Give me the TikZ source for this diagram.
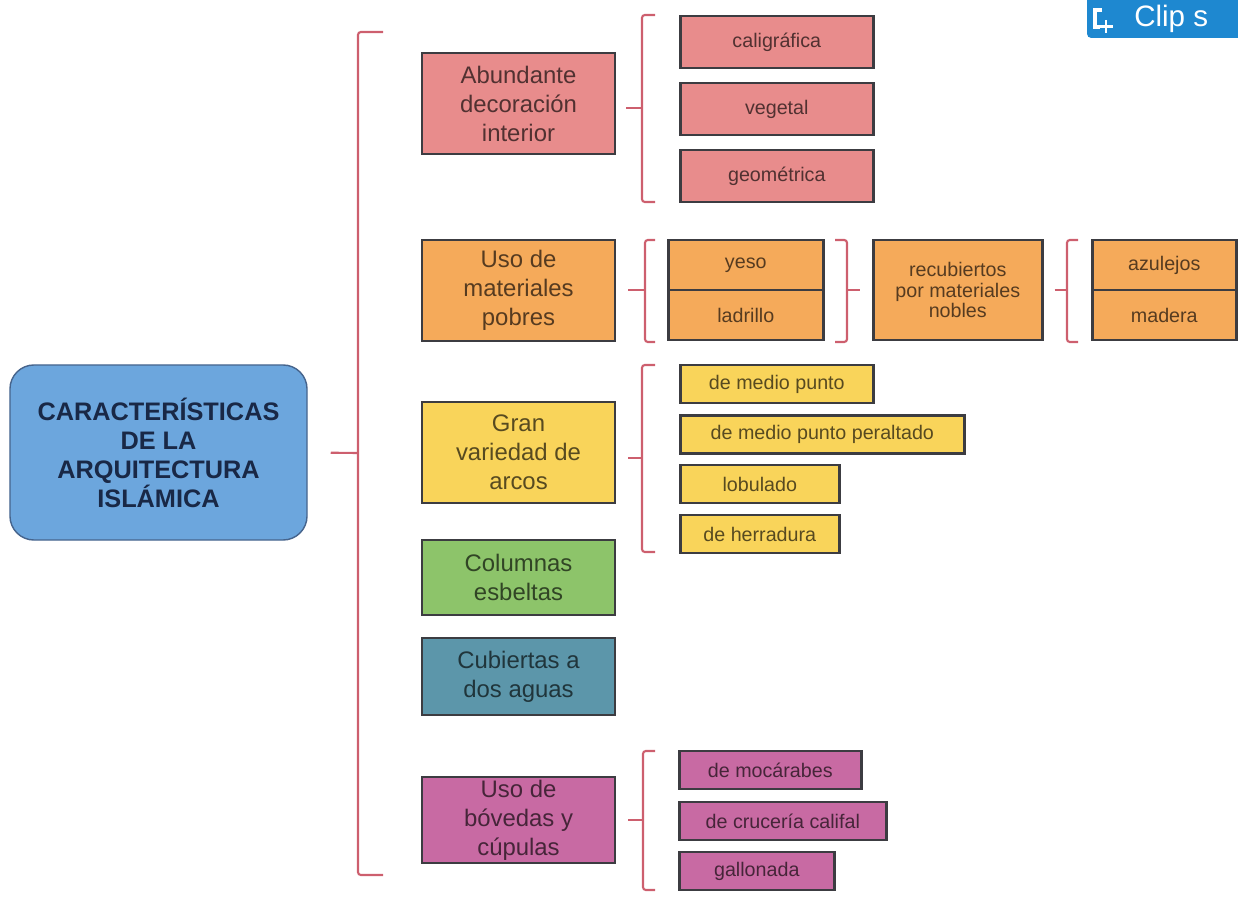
\documentclass[tikz,border=0pt]{standalone}
\usepackage{fontspec}
\setmainfont{Liberation Sans}
\usetikzlibrary{positioning}

\definecolor{mainblue}{RGB}{108,166,221}
\definecolor{mainline}{RGB}{70,100,140}
\definecolor{maintext}{RGB}{25,40,70}
\definecolor{pinkfill}{RGB}{232,140,140}
\definecolor{orangefill}{RGB}{245,170,90}
\definecolor{yellowfill}{RGB}{249,212,90}
\definecolor{greenfill}{RGB}{141,196,106}
\definecolor{tealfill}{RGB}{92,150,170}
\definecolor{magentafill}{RGB}{200,106,163}
\definecolor{boxline}{RGB}{60,60,65}
\definecolor{bracered}{RGB}{205,95,110}
\definecolor{clipblue}{RGB}{30,136,208}

\begin{document}
\begin{tikzpicture}[x=0.025cm, y=-0.025cm]

      \tikzstyle{main_style} = [rectangle, rounded corners=0.6cm, draw=mainline, fill=mainblue, text=maintext, line width=1pt, minimum width=7.425cm, minimum height=4.375cm, inner sep=0pt, align=center, font=\fontsize{18}{20.6}\selectfont\bfseries]
        \tikzstyle{cat_style} = [rectangle, draw=boxline, line width=1.8pt, minimum width=4.825cm, inner sep=0pt, align=center, font=\fontsize{17}{20.6}\selectfont]
        \tikzstyle{sub_style} = [rectangle, draw=boxline, line width=1.8pt, inner sep=0pt, align=center, anchor=west, font=\fontsize{14}{14.8}\selectfont]
            \tikzstyle{brace_style} = [draw=bracered, line width=1.5pt, rounded corners=2pt]

      \useasboundingbox (0,0) rectangle (1238,911);

            \draw
              (158.5, 452.5) node[main_style] (main){CARACTERÍSTICAS\\DE LA\\ARQUITECTURA\\ISLÁMICA}
              (518.5, 103.5) node[cat_style, fill=pinkfill, text=pinkfill!35!black, minimum height=2.525cm] (abund){Abundante\\decoración\\interior}
              (518.5, 290.5) node[cat_style, fill=orangefill, text=orangefill!35!black, minimum height=2.525cm] (uso){Uso de\\materiales\\pobres}
              (518.5, 452.5) node[cat_style, fill=yellowfill, text=yellowfill!35!black, minimum height=2.525cm] (gran){Gran\\variedad de\\arcos}
              (518.5, 577.5) node[cat_style, fill=greenfill, text=greenfill!35!black, minimum height=1.875cm] (col){Columnas\\esbeltas}
              (518.5, 676.5) node[cat_style, fill=tealfill, text=tealfill!35!black, minimum height=1.925cm] (cub){Cubiertas a\\dos aguas}
              (518.5, 820.0) node[cat_style, fill=magentafill, text=magentafill!35!black, minimum height=2.15cm] (bov){Uso de\\bóvedas y\\cúpulas}
              (679.0, 42.0) node[sub_style, fill=pinkfill, text=pinkfill!35!black, minimum width=4.825cm, minimum height=1.3cm] (calig){caligráfica}
              (679.0, 109.0) node[sub_style, fill=pinkfill, text=pinkfill!35!black, minimum width=4.825cm, minimum height=1.3cm] (veg){vegetal}
              (679.0, 176.0) node[sub_style, fill=pinkfill, text=pinkfill!35!black, minimum width=4.825cm, minimum height=1.3cm] (geo){geométrica}
              (667.0, 265.0) node[sub_style, fill=orangefill, text=orangefill!35!black, minimum width=3.875cm, minimum height=1.25cm] (yeso){yeso}
              (667.0, 315.0) node[sub_style, fill=orangefill, text=orangefill!35!black, minimum width=3.875cm, minimum height=1.25cm] (ladr){ladrillo}
              (872.0, 290.0) node[sub_style, fill=orangefill, text=orangefill!35!black, minimum width=4.225cm, minimum height=2.5cm] (recub){recubiertos\\por materiales\\nobles}
              (1091.0, 265.0) node[sub_style, fill=orangefill, text=orangefill!35!black, minimum width=3.6cm, minimum height=1.25cm] (azul){azulejos}
              (1091.0, 315.0) node[sub_style, fill=orangefill, text=orangefill!35!black, minimum width=3.6cm, minimum height=1.25cm] (mad){madera}
              (679.0, 384.0) node[sub_style, fill=yellowfill, text=yellowfill!35!black, minimum width=4.825cm, minimum height=0.95cm] (dmp){de medio punto}
              (679.0, 434.5) node[sub_style, fill=yellowfill, text=yellowfill!35!black, minimum width=7.1cm, minimum height=0.95cm] (dmpp){de medio punto peraltado}
              (679.0, 484.0) node[sub_style, fill=yellowfill, text=yellowfill!35!black, minimum width=3.975cm, minimum height=0.95cm] (lob){lobulado}
              (679.0, 534.0) node[sub_style, fill=yellowfill, text=yellowfill!35!black, minimum width=3.975cm, minimum height=0.95cm] (herr){de herradura}
              (678.0, 770.0) node[sub_style, fill=magentafill, text=magentafill!35!black, minimum width=4.55cm, minimum height=0.95cm] (moc){de mocárabes}
              (678.0, 821.0) node[sub_style, fill=magentafill, text=magentafill!35!black, minimum width=5.175cm, minimum height=0.95cm] (cruc){de crucería califal}
              (678.0, 871.0) node[sub_style, fill=magentafill, text=magentafill!35!black, minimum width=3.875cm, minimum height=0.95cm] (gall){gallonada};

      % brackets
      \coordinate (bmain) at (358, 453);
      \coordinate (b1) at (642, 108);
      \coordinate (b2) at (645, 290);
      \coordinate (b2r) at (847, 290);
      \coordinate (b2a) at (1067, 290);
      \coordinate (b3) at (642, 458);
      \coordinate (b6) at (643, 820);

      \begin{scope}[-]
        \draw[brace_style] (383, 32) -- (358, 32) -- (358, 875) -- (383, 875);
        \draw[brace_style, shorten <=0.575cm] (main.east) -- (bmain);
        \draw[brace_style] (655, 15) -- (642, 15) -- (642, 202) -- (655, 202);
        \draw[brace_style, shorten <=0.25cm] (abund.east |- b1) -- (b1);
        \draw[brace_style] (655, 240) -- (645, 240) -- (645, 342) -- (655, 342);
        \draw[brace_style, shorten <=0.3cm] (uso.east |- b2) -- (b2);
        \draw[brace_style] (835, 240) -- (847, 240) -- (847, 342) -- (835, 342);
        \draw[brace_style, shorten >=0.3cm] (b2r) -- (recub.west);
        \draw[brace_style] (1078, 240) -- (1067, 240) -- (1067, 342) -- (1078, 342);
        \draw[brace_style, shorten <=0.275cm] (recub.east) -- (b2a);
        \draw[brace_style] (655, 365) -- (642, 365) -- (642, 552) -- (655, 552);
        \draw[brace_style, shorten <=0.3cm] (gran.east |- b3) -- (b3);
        \draw[brace_style] (655, 751) -- (643, 751) -- (643, 890) -- (655, 890);
        \draw[brace_style, shorten <=0.3cm] (bov.east |- b6) -- (b6);
      \end{scope}

      % clip button
      \fill[clipblue, rounded corners=3pt] (1087, -10) rectangle (1260, 38);
      \draw[white, line width=2.2pt] (1102, 10) -- (1095, 10) -- (1095, 27) -- (1100, 27);
      \draw[white, line width=1.8pt] (1106, 20) -- (1106, 33) (1099.5, 26.5) -- (1112.5, 26.5);
      \node[anchor=west, text=white, inner sep=0pt, font=\fontsize{21}{21}\selectfont] (clip) at (1134, 19) {Clip s};
    \end{tikzpicture}
\end{document}
